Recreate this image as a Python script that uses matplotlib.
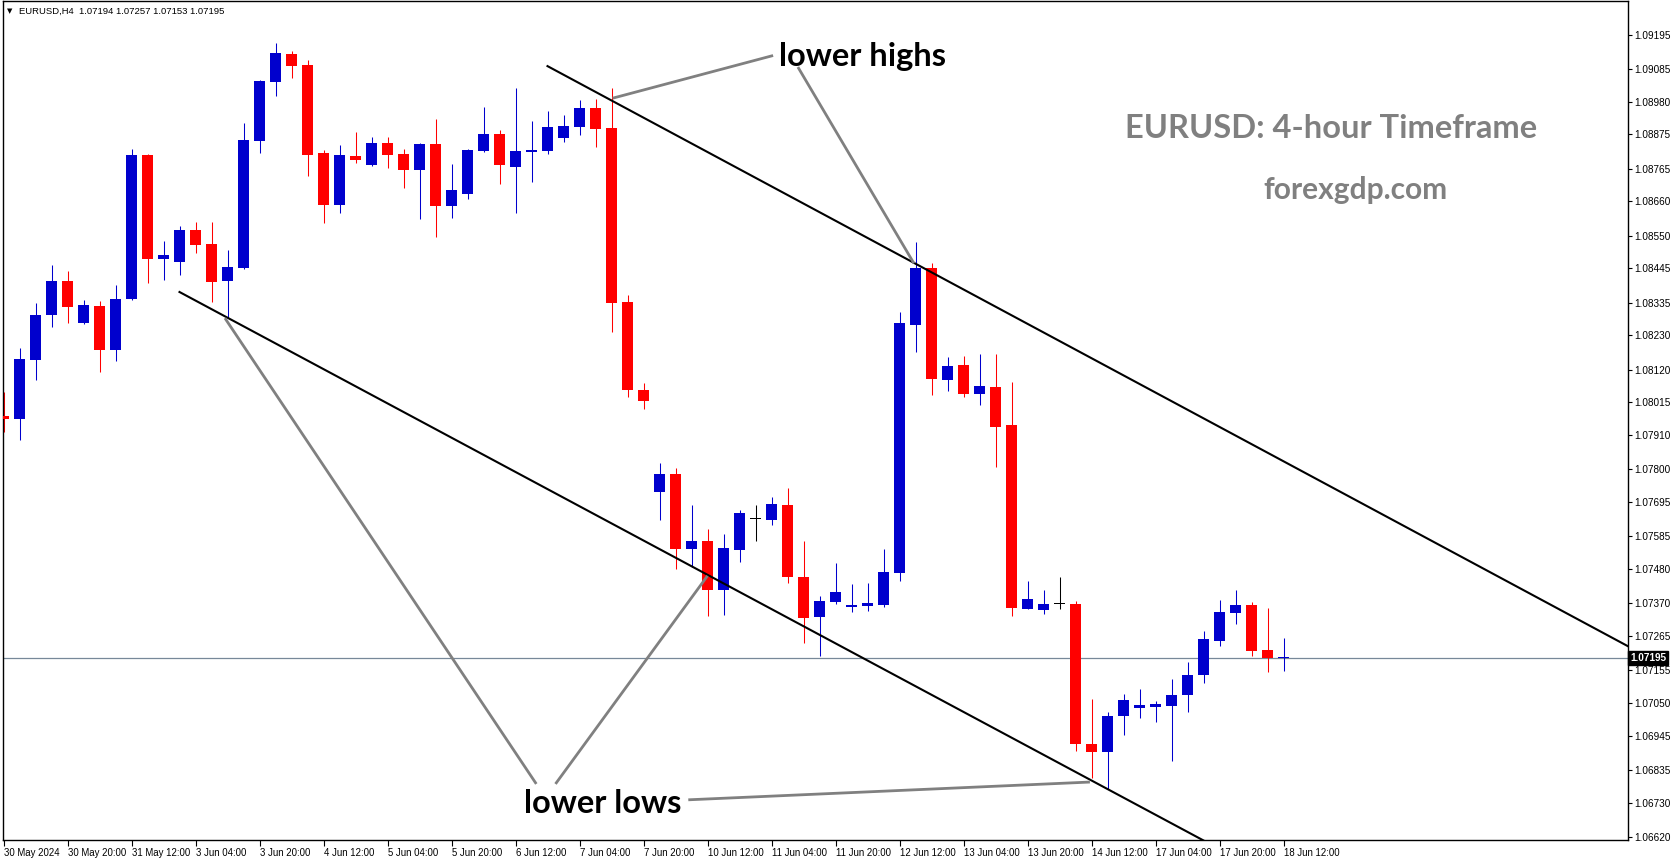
import numpy as np
import matplotlib
matplotlib.use('Agg')
import matplotlib.pyplot as plt
import matplotlib.transforms as mtransforms

# EURUSD H4 candles, 30 May 04:00 .. 18 Jun 12:00
opens = [1.07972, 1.07962, 1.08152, 1.08295, 1.08404, 1.08269, 1.08324, 1.08184, 1.08347, 1.08809,
         1.08475, 1.08465, 1.08568, 1.08523, 1.08404, 1.08446, 1.08854, 1.09043, 1.09133, 1.09097,
         1.08815, 1.08648, 1.08805, 1.08777, 1.08847, 1.08812, 1.08760, 1.08844, 1.08645, 1.08683,
         1.08821, 1.08876, 1.08770, 1.08818, 1.08821, 1.08863, 1.08898, 1.08959, 1.08895, 1.08337,
         1.08054, 1.07728, 1.07785, 1.07545, 1.07570, 1.07414, 1.07542, 1.07640, 1.07638, 1.07685,
         1.07454, 1.07327, 1.07374, 1.07358, 1.07361, 1.07364, 1.07468, 1.08263, 1.08446, 1.08087,
         1.08135, 1.08043, 1.08064, 1.07942, 1.07353, 1.07348, 1.07368, 1.07368, 1.06919, 1.06894,
         1.07009, 1.07035, 1.07038, 1.07041, 1.07074, 1.07141, 1.07250, 1.07340, 1.07364, 1.07220,
         1.07194]
highs = [1.08047, 1.08189, 1.08334, 1.08456, 1.08436, 1.08343, 1.08340, 1.08391, 1.08828, 1.08812,
         1.08533, 1.08581, 1.08594, 1.08594, 1.08504, 1.08911, 1.09049, 1.09168, 1.09142, 1.09113,
         1.08825, 1.08841, 1.08882, 1.08866, 1.08866, 1.08828, 1.08847, 1.08924, 1.08780, 1.08828,
         1.08963, 1.08889, 1.09024, 1.08918, 1.08950, 1.08937, 1.08985, 1.08988, 1.09024, 1.08359,
         1.08077, 1.07820, 1.07804, 1.07685, 1.07608, 1.07592, 1.07669, 1.07685, 1.07711, 1.07740,
         1.07570, 1.07393, 1.07499, 1.07432, 1.07435, 1.07544, 1.08305, 1.08529, 1.08462, 1.08160,
         1.08164, 1.08170, 1.08170, 1.08080, 1.07442, 1.07413, 1.07454, 1.07377, 1.07063, 1.07021,
         1.07079, 1.07095, 1.07056, 1.07127, 1.07182, 1.07281, 1.07381, 1.07413, 1.07374, 1.07355,
         1.07257]
lows = [1.07920, 1.07894, 1.08087, 1.08258, 1.08269, 1.08265, 1.08113, 1.08148, 1.08343, 1.08398,
        1.08407, 1.08423, 1.08494, 1.08337, 1.08286, 1.08443, 1.08815, 1.08998, 1.09056, 1.08741,
        1.08590, 1.08622, 1.08783, 1.08774, 1.08767, 1.08703, 1.08603, 1.08545, 1.08606, 1.08667,
        1.08818, 1.08716, 1.08622, 1.08722, 1.08812, 1.08850, 1.08873, 1.08834, 1.08241, 1.08033,
        1.07994, 1.07638, 1.07481, 1.07487, 1.07330, 1.07333, 1.07503, 1.07571, 1.07622, 1.07436,
        1.07243, 1.07201, 1.07368, 1.07342, 1.07345, 1.07358, 1.07442, 1.08176, 1.08039, 1.08052,
        1.08033, 1.08007, 1.07808, 1.07330, 1.07350, 1.07336, 1.07353, 1.06897, 1.06809, 1.06774,
        1.06948, 1.07000, 1.06990, 1.06865, 1.07022, 1.07115, 1.07234, 1.07304, 1.07202, 1.07150,
        1.07153]
closes = [1.07962, 1.08154, 1.08295, 1.08404, 1.08321, 1.08327, 1.08184, 1.08346, 1.08809, 1.08475,
          1.08488, 1.08568, 1.08520, 1.08401, 1.08449, 1.08857, 1.09046, 1.09136, 1.09094, 1.08809,
          1.08648, 1.08809, 1.08793, 1.08847, 1.08809, 1.08760, 1.08844, 1.08645, 1.08696, 1.08825,
          1.08876, 1.08777, 1.08821, 1.08825, 1.08898, 1.08902, 1.08959, 1.08892, 1.08334, 1.08055,
          1.08020, 1.07785, 1.07545, 1.07570, 1.07414, 1.07547, 1.07660, 1.07640, 1.07689, 1.07455,
          1.07324, 1.07377, 1.07406, 1.07364, 1.07371, 1.07470, 1.08269, 1.08446, 1.08091, 1.08131,
          1.08043, 1.08067, 1.07937, 1.07354, 1.07384, 1.07368, 1.07368, 1.06919, 1.06894, 1.07008,
          1.07060, 1.07043, 1.07047, 1.07076, 1.07140, 1.07255, 1.07342, 1.07364, 1.07218, 1.07195,
          1.07195]

date_labels = ['30 May 2024', '30 May 20:00', '31 May 12:00', '3 Jun 04:00', '3 Jun 20:00',
               '4 Jun 12:00', '5 Jun 04:00', '5 Jun 20:00', '6 Jun 12:00', '7 Jun 04:00',
               '7 Jun 20:00', '10 Jun 12:00', '11 Jun 04:00', '11 Jun 20:00', '12 Jun 12:00',
               '13 Jun 04:00', '13 Jun 20:00', '14 Jun 12:00', '17 Jun 04:00', '17 Jun 20:00',
               '18 Jun 12:00']
price_ticks = [1.09195, 1.09085, 1.08980, 1.08875, 1.08765, 1.08660, 1.08550, 1.08445, 1.08335,
               1.08230, 1.08120, 1.08015, 1.07910, 1.07800, 1.07695, 1.07585, 1.07480, 1.07370,
               1.07265, 1.07155, 1.07050, 1.06945, 1.06835, 1.06730, 1.06620]
bid = 1.07195

# channel lines (bar index, price)
upper_line = ([34.0, 102.0], [1.09094, 1.07219])
lower_line = ([11.0, 76.0], [1.08369, 1.06581])
# grey pointer lines: (x0, y0, x1, y1)
highs_pointers = [(48.1, 1.09128, 38.07, 1.08991), (49.65, 1.09091, 56.9, 1.08461)]
lows_pointers = [(33.3, 1.06790, 13.84, 1.08285), (34.5, 1.06790, 44.0, 1.07458),
                 (42.8, 1.06739, 67.9, 1.06796)]

W, H = 1673, 861
fig = plt.figure(figsize=(W / 100, H / 100), dpi=100)
fig.patch.set_facecolor('white')
# plot area in pixels: left 3, right 1627.5, top 1, bottom 840
ax = fig.add_axes([2.7 / W, 1 - 840 / H, (1627.5 - 2.7) / W, 839 / H])

x = np.arange(len(opens))
o = np.array(opens)
c = np.array(closes)
colors = np.where(c > o, '#0000cd', np.where(c < o, '#ff0000', '#000000'))

ax.vlines(x, lows, highs, colors=colors, linewidth=0.75, zorder=2)
body = np.maximum(np.abs(c - o), 0.00003)
ax.bar(x, body, bottom=np.minimum(o, c), width=0.69, color=colors, linewidth=0, zorder=3)

# current price line
ax.axhline(bid, color='#778899', linewidth=0.9, zorder=1)

ax.plot(upper_line[0], upper_line[1], color='black', linewidth=1.5, zorder=4)
ax.plot(lower_line[0], lower_line[1], color='black', linewidth=1.5, zorder=4)
for x0, y0, x1, y1 in highs_pointers + lows_pointers:
    ax.plot([x0, x1], [y0, y1], color='#808080', linewidth=2.0, zorder=5, solid_capstyle='butt')

ax.set_xlim(-0.05, 101.5)
ax.set_ylim(1.0661, 1.09303)

ax.yaxis.tick_right()
ax.set_yticks(price_ticks)
ax.set_yticklabels(['%.5f' % p for p in price_ticks], fontfamily='Liberation Sans')
ax.set_xticks(np.arange(0, 81, 4))
ax.set_xticklabels(date_labels, fontfamily='Liberation Sans', ha='left')
ax.tick_params(axis='y', direction='out', length=3, width=0.8, labelsize=7.2, pad=2)
ax.tick_params(axis='x', direction='out', length=4, width=0.8, labelsize=6.9, pad=1.5)
for s in ax.spines.values():
    s.set_color('black')
    s.set_linewidth(1.0)

# bid label box on the price scale
trans = mtransforms.blended_transform_factory(ax.transAxes, ax.transData)
ax.text(1.0016, bid, '1.07195', transform=trans, ha='left', va='center', fontsize=7.2,
        fontfamily='Liberation Sans', color='white', fontweight='bold',
        bbox=dict(boxstyle='square,pad=0.2', facecolor='black', edgecolor='black'))

# annotations
ax.text(0.5289, 0.9225, 'lower highs', transform=ax.transAxes, ha='center', va='baseline',
        fontsize=23.5, fontfamily='Lato', fontweight='bold', color='black', zorder=6)
ax.text(0.3695, 0.0322, 'lower lows', transform=ax.transAxes, ha='center', va='baseline',
        fontsize=23.5, fontfamily='Lato', fontweight='bold', color='black', zorder=6)
ax.text(0.8175, 0.8367, 'EURUSD: 4-hour Timeframe', transform=ax.transAxes, ha='center',
        va='baseline', fontsize=23.5, fontfamily='Lato', fontweight='bold', color='#808080')
ax.text(0.8323, 0.764, 'forexgdp.com', transform=ax.transAxes, ha='center', va='baseline',
        fontsize=21.5, fontfamily='Lato', fontweight='bold', color='#808080')

# header
fig.text(7 / W, 1 - 11 / H, '\u25bc', fontsize=5, fontfamily='DejaVu Sans', va='center', ha='left')
fig.text(19 / W, 1 - 11 / H, 'EURUSD,H4  1.07194 1.07257 1.07153 1.07195', fontsize=6.8,
         fontfamily='Liberation Sans', va='center', ha='left')

fig.savefig('out.png', dpi=100, facecolor='white')
